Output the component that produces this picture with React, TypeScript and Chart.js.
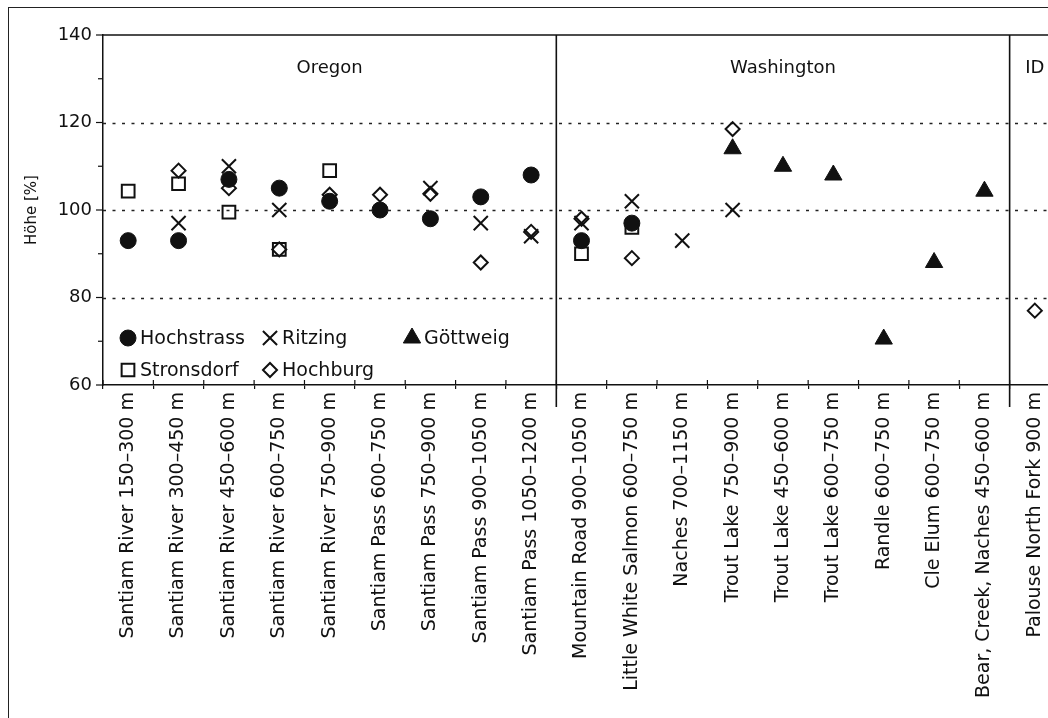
import React, { useEffect, useRef } from 'react';
import { Chart, registerables } from 'chart.js';
import { drawPoint } from 'chart.js/helpers';

Chart.register(...registerables);

const categories = [
  'Santiam River 150–300 m',
  'Santiam River 300–450 m',
  'Santiam River 450–600 m',
  'Santiam River 600–750 m',
  'Santiam River 750–900 m',
  'Santiam Pass 600–750 m',
  'Santiam Pass 750–900 m',
  'Santiam Pass 900–1050 m',
  'Santiam Pass 1050–1200 m',
  'Mountain Road 900–1050 m',
  'Little White Salmon 600–750 m',
  'Naches 700–1150 m',
  'Trout Lake 750–900 m',
  'Trout Lake 450–600 m',
  'Trout Lake 600–750 m',
  'Randle 600–750 m',
  'Cle Elum 600–750 m',
  'Bear, Creek, Naches 450–600 m',
  'Palouse North Fork 900 m',
];

const groupNames = ['Oregon', 'Washington', 'ID'];
const groupSizes = [9, 9, 1];

const hochstrass = [93, 93, 107, 105, 102, 100, 98, 103, 108, 93, 97, null, null, null, null, null, null, null, null];
const ritzing = [null, 97, 110, 100, null, null, 105, 97, 94, 97, 102, 93, 100, null, null, null, null, null, null];
const goettweig = [null, null, null, null, null, null, null, null, null, null, null, null, 114, 110, 108, 70.5, 88, 104.3, null];
const stronsdorf = [104.3, 106, 99.5, 91, 109, null, null, null, null, 90, 96, null, null, null, null, null, null, null, null];
const hochburg = [null, 109, 105, 91, 103.5, 103.5, 103.7, 88, 95, 98, 89, null, 118.5, null, null, null, null, null, 77];

const yMin = 60;
const yMax = 140;
const yStep = 10;
const yLabelStep = 20;
const dottedGrid = [80, 100, 120];

const INK = '#111';
const FONT = 'DejaVu Sans';

const seriesDefs = [
  { label: 'Hochstrass', data: hochstrass, pointStyle: 'circle', radius: 8, fill: INK, borderWidth: 1 },
  { label: 'Ritzing', data: ritzing, pointStyle: 'crossRot', radius: 10, fill: 'rgba(0,0,0,0)', borderWidth: 2 },
  { label: 'Göttweig', data: goettweig, pointStyle: 'triangle', radius: 10, fill: INK, borderWidth: 1 },
  { label: 'Stronsdorf', data: stronsdorf, pointStyle: 'rect', radius: 9, fill: 'rgba(0,0,0,0)', borderWidth: 2 },
  { label: 'Hochburg', data: hochburg, pointStyle: 'rectRot', radius: 7, fill: 'rgba(0,0,0,0)', borderWidth: 2 },
];

// legend grid: [column, row] for each series
const legendSlots = [
  [0, 0],
  [1, 0],
  [2, 0],
  [0, 1],
  [1, 1],
];

const decorPlugin = {
  id: 'decor',
  beforeDatasetsDraw(chart: any) {
    const { ctx, chartArea: ca, scales } = chart;
    const x = scales.x;
    const y = scales.y;
    const step = x.getPixelForValue(1) - x.getPixelForValue(0);
    const line = (x1: number, y1: number, x2: number, y2: number) => {
      ctx.beginPath();
      ctx.moveTo(x1, y1);
      ctx.lineTo(x2, y2);
      ctx.stroke();
    };
    ctx.save();
    // dotted grid lines
    ctx.strokeStyle = '#222';
    ctx.lineWidth = 1.6;
    ctx.setLineDash([3, 6.5]);
    for (const v of dottedGrid) {
      const py = Math.round(y.getPixelForValue(v)) + 0.5;
      line(ca.left, py, ca.right, py);
    }
    ctx.setLineDash([]);
    ctx.strokeStyle = INK;
    ctx.lineWidth = 1.5;
    // top frame line
    line(ca.left, ca.top, ca.right + 20, ca.top);
    // y ticks: long at labelled values, short in between
    ctx.lineWidth = 1.2;
    for (let v = yMin; v <= yMax; v += yStep) {
      const py = y.getPixelForValue(v);
      const len = v % yLabelStep === 0 ? 7 : 5;
      line(ca.left - len, py, ca.left, py);
    }
    // tick marks above axis at category boundaries
    for (let i = 0; i <= categories.length; i++) {
      const bx = x.getPixelForValue(Math.min(i, categories.length - 1)) + (i === categories.length ? step / 2 : -step / 2);
      line(bx, ca.bottom - 5, bx, ca.bottom);
    }
    // group separators + labels
    ctx.lineWidth = 1.6;
    ctx.fillStyle = INK;
    ctx.font = `18px "${FONT}"`;
    ctx.textAlign = 'center';
    ctx.textBaseline = 'middle';
    let start = 0;
    groupSizes.forEach((size, gi) => {
      const end = start + size - 1;
      const left = x.getPixelForValue(start) - step / 2;
      const right = x.getPixelForValue(end) + step / 2;
      if (gi < groupSizes.length - 1) {
        line(right, ca.top, right, ca.bottom + 22);
      }
      ctx.fillText(groupNames[gi], (left + right) / 2, ca.top + 33);
      start += size;
    });
    ctx.restore();
  },
  afterDraw(chart: any) {
    const { ctx, chartArea: ca } = chart;
    ctx.save();
    ctx.font = `19px "${FONT}"`;
    ctx.textAlign = 'left';
    ctx.textBaseline = 'middle';
    seriesDefs.forEach((s, i) => {
      const [col, row] = legendSlots[i];
      const mx = ca.left + 25 + col * 142;
      const my = ca.bottom - 47 + row * 32;
      ctx.fillStyle = s.fill;
      ctx.strokeStyle = INK;
      ctx.lineWidth = s.borderWidth;
      drawPoint(ctx, { pointStyle: s.pointStyle, radius: s.radius, rotation: 0, borderWidth: s.borderWidth } as any, mx, my);
      ctx.fillStyle = INK;
      ctx.fillText(s.label, mx + 12, my + 1);
    });
    ctx.restore();
  },
};

export default function App() {
  const ref = useRef<HTMLCanvasElement>(null);

  useEffect(() => {
    if (!ref.current) return;
    const chart = new Chart(ref.current, {
      type: 'line',
      data: {
        labels: categories,
        datasets: seriesDefs.map((s) => ({
          label: s.label,
          data: s.data,
          showLine: false,
          pointStyle: s.pointStyle as any,
          pointRadius: s.radius,
          pointHoverRadius: s.radius,
          pointBackgroundColor: s.fill,
          pointBorderColor: INK,
          pointBorderWidth: s.borderWidth,
          borderColor: INK,
          backgroundColor: s.fill,
        })),
      },
      options: {
        responsive: false,
        animation: false,
        events: [],
        layout: { padding: { top: 27, left: 0, right: 19, bottom: 0 } },
        plugins: {
          legend: { display: false },
          tooltip: { enabled: false },
          title: { display: false },
        },
        scales: {
          x: {
            type: 'category',
            offset: true,
            grid: {
              offset: true,
              drawOnChartArea: false,
              drawTicks: true,
              tickLength: 4,
              color: INK,
              lineWidth: 1.2,
            },
            border: { display: true, color: INK, width: 1.5 },
            ticks: {
              autoSkip: false,
              maxRotation: 90,
              minRotation: 90,
              padding: 3,
              color: INK,
              font: { family: FONT, size: 19 },
            },
            afterFit: (s: any) => {
              s.height = 326;
            },
          },
          y: {
            min: yMin,
            max: yMax,
            grid: {
              drawOnChartArea: false,
              drawTicks: false,
            },
            border: { display: true, color: INK, width: 1.5 },
            ticks: {
              stepSize: yStep,
              padding: 11,
              color: INK,
              font: { family: FONT, size: 18 },
              callback: (v: any) => (Number(v) % yLabelStep === 0 ? String(v) : ''),
            },
            title: {
              display: true,
              text: 'Höhe [%]',
              color: INK,
              font: { family: FONT, size: 15 },
              padding: { top: 14, bottom: 0 },
            },
            afterFit: (s: any) => {
              s.width = 94;
            },
          },
        },
      },
      plugins: [decorPlugin],
    });
    return () => chart.destroy();
  }, []);

  return (
    <div
      style={{
        position: 'fixed',
        left: 8,
        top: 7,
        width: 1040,
        height: 711,
        overflow: 'hidden',
        boxSizing: 'border-box',
        borderLeft: '1px solid #222',
        borderTop: '1px solid #222',
        background: '#fff',
      }}
    >
      <canvas ref={ref} width={1070} height={703} style={{ display: 'block' }} />
    </div>
  );
}
